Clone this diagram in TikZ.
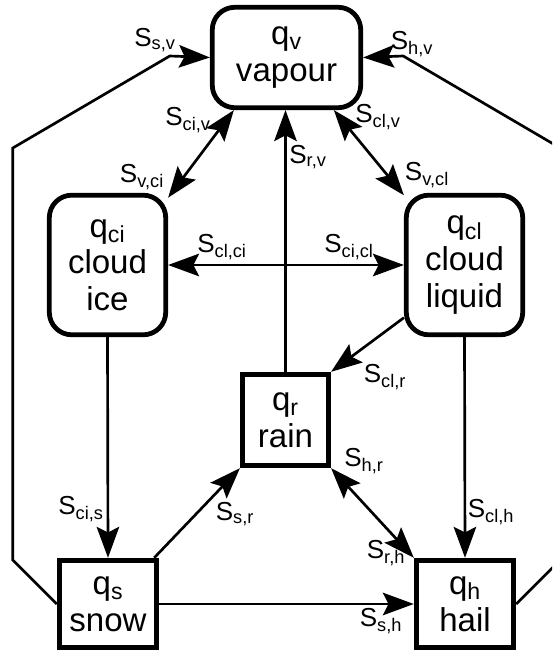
\documentclass[tikz,border=0pt]{standalone}
\usepackage{fontspec}
\setmainfont{Liberation Sans}
\usetikzlibrary{arrows.meta}

\begin{document}
\begin{tikzpicture}[x=0.025cm, y=-0.025cm,
  >={Stealth[length=22pt,width=16pt,inset=4pt]},
  box/.style={draw, line width=3.4pt, align=center, inner sep=0pt,
    font=\fontsize{23.5}{26}\selectfont},
  rbox/.style={box, rounded corners=16pt},
  flow/.style={line width=1.9pt},
  lbl/.style={inner sep=0pt, font=\fontsize{18.5}{20}\selectfont}]
  \clip (0,0) rectangle (552,655);

  % Species boxes
  \node[rbox, minimum width=3.71cm, minimum height=2.51cm] (vap) at (286.5,57.5) {q\textsubscript{v}\\vapour};
  \node[rbox, minimum width=2.91cm, minimum height=3.49cm] (ci) at (107.5,265) {q\textsubscript{ci}\\cloud\\ice};
  \node[rbox, minimum width=2.91cm, minimum height=3.49cm] (cl) at (464.5,265) {q\textsubscript{cl}\\cloud\\liquid};
  \node[box, minimum width=2.16cm, minimum height=2.29cm] (rain) at (285.5,420) {q\textsubscript{r}\\rain};
  \node[box, minimum width=2.44cm, minimum height=2.19cm] (snow) at (108,604) {q\textsubscript{s}\\snow};
  \node[box, minimum width=2.44cm, minimum height=2.19cm] (hail) at (465,604) {q\textsubscript{h}\\hail};

  % Exchanges with vapour
  \draw[flow, <->] (vap.-135) -- (ci.48);
  \draw[flow, <->] (vap.-48) -- (cl.131);
  \draw[flow, ->] (rain.north) -- (rain.north |- vap.south);
  \draw[flow, ->] (snow.west) -- ++(-44,-44) -- ++(0,-412) -- ++(157,-92) -- (vap.west);
  \draw[flow, ->] (hail.east) -- ++(44,-44) -- ++(0,-412) -- ++(-157,-92) -- (vap.east);

  % Cloud and precipitation
  \draw[flow, <->] (ci.east) -- (cl.west);
  \draw[flow, ->] (cl.-139) -- (rain.north east);
  \draw[flow, ->] (cl.south) -- (hail.north);
  \draw[flow, ->] (ci.south) -- (snow.north);
  \draw[flow, ->] (snow.45) -- (rain.south west);
  \draw[flow, <->] (rain.south east) -- (hail.north west);
  \draw[flow, ->] (snow.east) -- (hail.west);

  % Source terms
  \node[lbl] (lsv) at (155,40) {S\textsubscript{s,v}};
  \node[lbl] (lciv) at (188,120) {S\textsubscript{ci,v}};
  \node[lbl] (lvci) at (142,177) {S\textsubscript{v,ci}};
  \node[lbl] (lhv) at (412,44) {S\textsubscript{h,v}};
  \node[lbl] (lclv) at (378,117) {S\textsubscript{cl,v}};
  \node[lbl] (lrv) at (308,157) {S\textsubscript{r,v}};
  \node[lbl] (lvcl) at (427,175) {S\textsubscript{v,cl}};
  \node[lbl] (lclci) at (222,247) {S\textsubscript{cl,ci}};
  \node[lbl] (lcicl) at (349,247) {S\textsubscript{ci,cl}};
  \node[lbl] (lclr) at (385,377) {S\textsubscript{cl,r}};
  \node[lbl] (lcis) at (81,509) {S\textsubscript{ci,s}};
  \node[lbl] (lsr) at (235,514) {S\textsubscript{s,r}};
  \node[lbl] (lhr) at (364,461) {S\textsubscript{h,r}};
  \node[lbl] (lclh) at (491,512) {S\textsubscript{cl,h}};
  \node[lbl] (lrh) at (386,553) {S\textsubscript{r,h}};
  \node[lbl] (lsh) at (381,621) {S\textsubscript{s,h}};
\end{tikzpicture}
\end{document}
